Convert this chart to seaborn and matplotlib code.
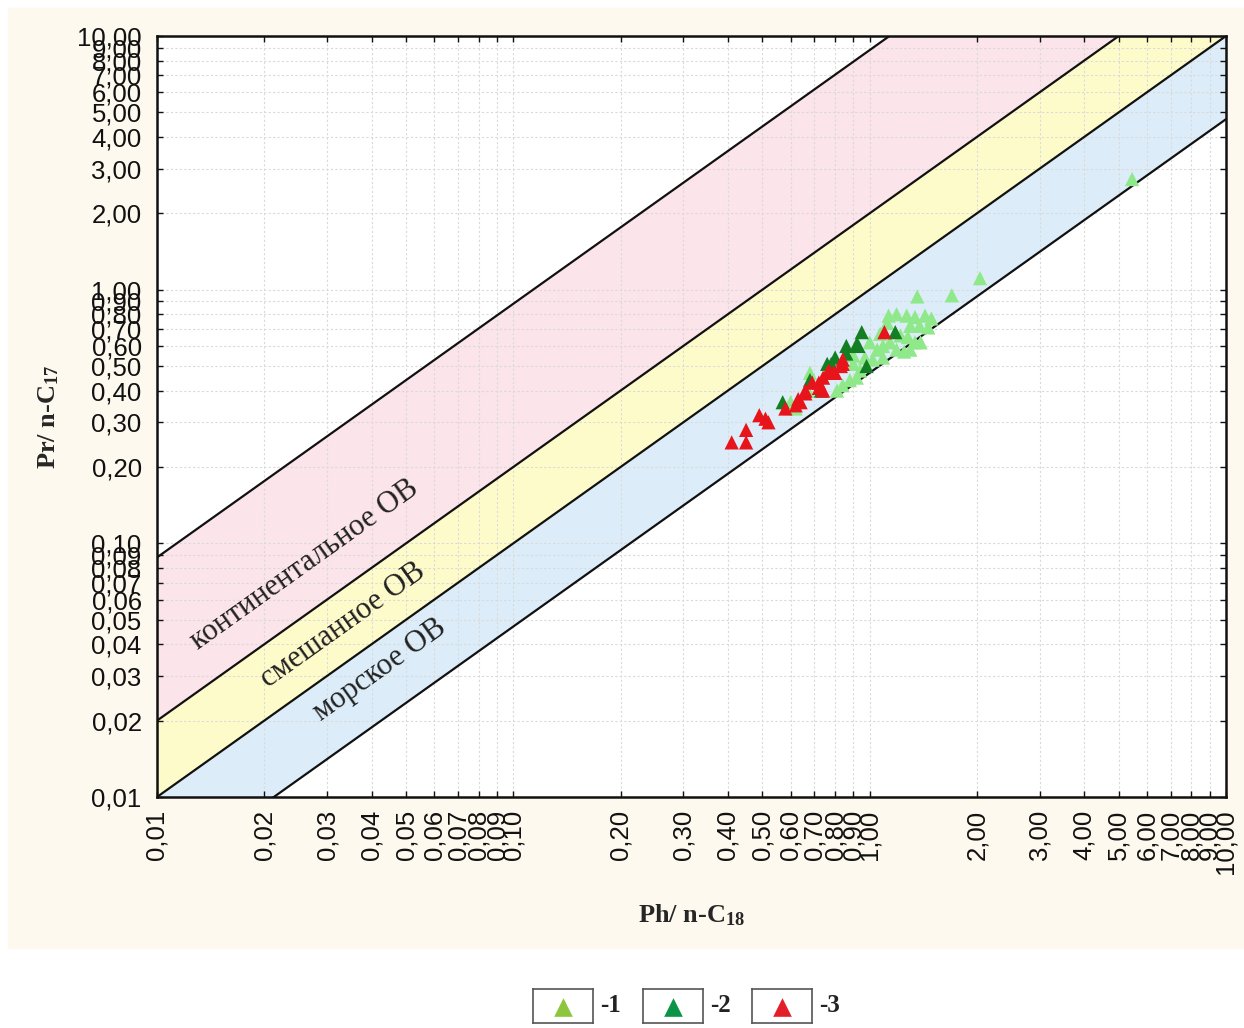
import numpy as np
import pandas as pd
import matplotlib
matplotlib.use("Agg")
import matplotlib.pyplot as plt
import seaborn as sns
from matplotlib.patches import Rectangle
from matplotlib.ticker import FixedLocator, FuncFormatter, NullLocator

# Ph/n-C18 (x) и Pr/n-C17 (y) по группам образцов
ph1 = [5.45, 2.04, 1.36, 1.70, 1.13, 1.19, 1.27, 1.34, 1.43, 1.49, 1.30, 1.38,
       1.46, 1.12, 1.07, 1.22, 1.28, 1.34, 1.00, 1.05, 1.09, 1.14, 0.97, 1.02,
       1.09, 0.90, 0.94, 0.68, 0.88, 0.84, 0.92, 0.60, 0.81, 0.90, 1.30, 1.19,
       1.25, 1.39, 0.67, 0.62]
pr1 = [2.73, 1.11, 0.94, 0.95, 0.79, 0.80, 0.79, 0.78, 0.79, 0.77, 0.72, 0.72,
       0.71, 0.74, 0.67, 0.66, 0.65, 0.62, 0.62, 0.58, 0.60, 0.62, 0.54, 0.53,
       0.54, 0.51, 0.48, 0.47, 0.44, 0.42, 0.45, 0.36, 0.40, 0.55, 0.58, 0.58,
       0.57, 0.62, 0.40, 0.34]
ph2 = [0.95, 1.18, 0.86, 0.93, 0.78, 0.98, 0.86, 0.57, 0.76, 0.92, 0.68, 0.80,
       0.73]
pr2 = [0.68, 0.68, 0.60, 0.60, 0.51, 0.50, 0.56, 0.36, 0.51, 0.61, 0.44, 0.54,
       0.40]
ph3 = [0.41, 0.45, 0.45, 0.49, 0.51, 0.52, 0.58, 0.63, 0.66, 0.64, 0.72, 0.74,
       0.76, 0.79, 0.84, 0.84, 1.10, 0.83, 0.62, 0.66, 0.69, 0.72, 0.77, 0.80,
       0.74]
pr3 = [0.25, 0.28, 0.25, 0.32, 0.31, 0.30, 0.34, 0.37, 0.39, 0.36, 0.41, 0.45,
       0.47, 0.47, 0.51, 0.53, 0.68, 0.50, 0.35, 0.40, 0.43, 0.43, 0.48, 0.47,
       0.40]

groups = ['-1', '-2', '-3']
point_colors = ['#8fe98b', '#137f22', '#e8141b']
legend_colors = ['#8cc63f', '#0b9446', '#e3202a']

# границы областей: Pr/n-C17 = k * Ph/n-C18
bound_k = [8.8, 2.0, 1.0, 0.47]
zone_names = ['континентальное ОВ', 'смешанное ОВ', 'морское ОВ']
zone_colors = ['#fbe4ea', '#fefbca', '#dcedf9']

tick_vals = [m * 10.0 ** e for e in (-2, -1, 0) for m in range(1, 10)] + [10.0]

df = pd.concat([
    pd.DataFrame({'ph': ph1, 'pr': pr1, 'group': groups[0]}),
    pd.DataFrame({'ph': ph2, 'pr': pr2, 'group': groups[1]}),
    pd.DataFrame({'ph': ph3, 'pr': pr3, 'group': groups[2]}),
], ignore_index=True)

sns.set_style('ticks')
plt.rcParams['font.family'] = ['Liberation Sans', 'DejaVu Sans']
plt.rcParams['mathtext.default'] = 'regular'

fig = plt.figure(figsize=(12.44, 10.28), dpi=100, facecolor='white')
fig.patches.append(Rectangle((8 / 1244, 1 - 948 / 1028), 1 - 8 / 1244, 940 / 1028,
                             transform=fig.transFigure, color='#fdf9ee', zorder=-10))
ax = fig.add_axes([157 / 1244, 1 - 797 / 1028, 1069 / 1244, 761 / 1028])
ax.set_facecolor('white')
ax.set_xscale('log')
ax.set_yscale('log')
ax.set_xlim(0.01, 10)
ax.set_ylim(0.01, 10)

# области
xx = np.logspace(-2, 1, 200)
for i in range(3):
    ax.fill_between(xx, bound_k[i] * xx, bound_k[i + 1] * xx,
                    color=zone_colors[i], lw=0, zorder=0.2)
for k in bound_k:
    ax.plot(xx, k * xx, color='#111111', lw=1.6, zorder=2)

sns.scatterplot(data=df, x='ph', y='pr', hue='group',
                palette=dict(zip(groups, point_colors)), marker='^', s=105,
                linewidth=0, legend=False, ax=ax, zorder=3)

# подписи областей
zone_pos = [(0.026, 0.082), (0.0333, 0.0476), (0.0423, 0.0317)]
for (tx, ty), name in zip(zone_pos, zone_names):
    ax.text(tx, ty, name, rotation=35.5, rotation_mode='anchor', ha='center',
            va='center', fontfamily='Liberation Serif', fontsize=22,
            color='#222222', zorder=4)

fmt = FuncFormatter(lambda v, p: f'{v:.2f}'.replace('.', ','))
for axis in (ax.xaxis, ax.yaxis):
    axis.set_major_locator(FixedLocator(tick_vals))
    axis.set_minor_locator(NullLocator())
    axis.set_major_formatter(fmt)
ax.grid(True, which='major', color='#dadada', lw=0.8, ls=(0, (2, 2)))
ax.set_axisbelow(True)
ax.tick_params(axis='both', direction='in', top=True, right=True, length=4,
               width=1, labelsize=18.5, colors='#111111')
ax.tick_params(axis='y', pad=11)
ax.tick_params(axis='x', pad=9, labelrotation=90)
for sp in ax.spines.values():
    sp.set_linewidth(1.8)
    sp.set_color('#111111')

ax.set_xlabel('Ph/ n-C$_{18}$', fontfamily='Liberation Serif',
              fontweight='bold', fontsize=19)
ax.set_ylabel('Pr/ n-C$_{17}$', fontfamily='Liberation Serif',
              fontweight='bold', fontsize=19)
ax.xaxis.set_label_coords(0.5, -0.139)
ax.yaxis.set_label_coords(-0.09, 0.5)

# легенда
box_x = [533, 643, 752]
for i in range(3):
    lax = fig.add_axes([box_x[i] / 1244, 1 - 1023 / 1028, 60 / 1244, 34 / 1028])
    lax.scatter([0.5], [0.47], marker='^', s=180, color=legend_colors[i], lw=0)
    lax.set_xlim(0, 1)
    lax.set_ylim(0, 1)
    lax.set_xticks([])
    lax.set_yticks([])
    for sp in lax.spines.values():
        sp.set_color('#555555')
        sp.set_linewidth(1.2)
    fig.text((box_x[i] + 67) / 1244, 1 - 1006 / 1028, groups[i],
             fontfamily='Liberation Serif', fontweight='bold', fontsize=18,
             va='center', ha='left', color='#222222')

fig.savefig('out.png', dpi=100)
